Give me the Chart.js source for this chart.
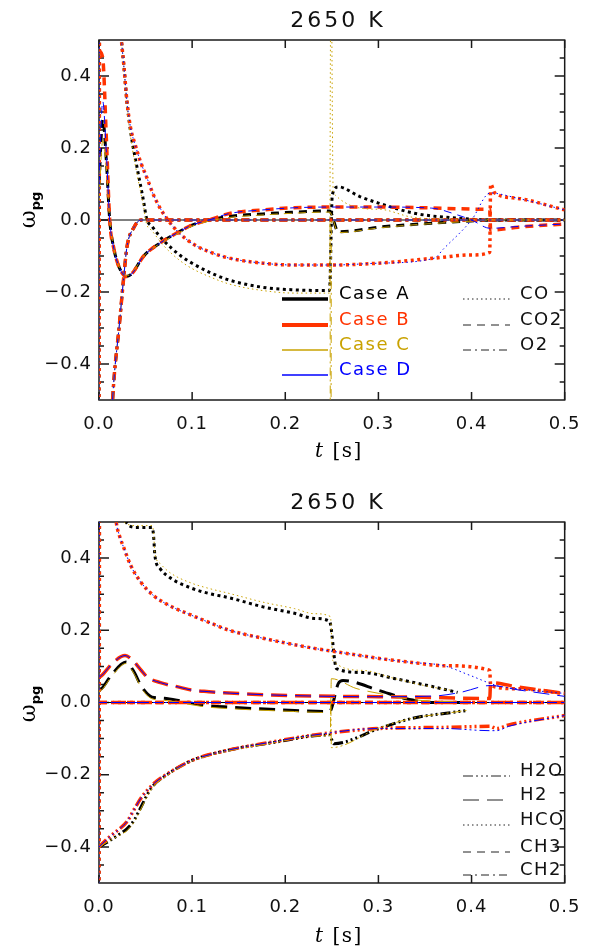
<!DOCTYPE html>
<html>
<head>
<meta charset="utf-8">
<script src="https://cdn.jsdelivr.net/npm/chart.js@4.4.1/dist/chart.umd.min.js"></script>
<style>
  body { margin: 0; background: #fff; width: 593px; height: 950px; position: relative; overflow: hidden; font-family: "DejaVu Sans", sans-serif; }
  canvas { position: absolute; left: 0; }
  .txt { position: absolute; white-space: nowrap; line-height: 18px; font-size: 18px; letter-spacing: 1.5px; }
  .title { position: absolute; width: 200px; text-align: center; font-size: 22px; letter-spacing: 3px; line-height: 22px; color: #111; }
  .xlab { position: absolute; width: 120px; text-align: center; font-family: "DejaVu Serif", serif; font-size: 20px; letter-spacing: 1.5px; line-height: 22px; }
  .ylab { position: absolute; width: 80px; height: 24px; text-align: center; transform: rotate(-90deg); font-family: "DejaVu Serif", serif; font-size: 22px; line-height: 24px; }
  .ylab sub { font-family: "DejaVu Sans", sans-serif; font-weight: bold; font-size: 13px; }
  svg.leg { position: absolute; left: 0; top: 0; overflow: visible; }
</style>
</head>
<body>
<canvas id="chart1" width="593" height="470" style="top:0px"></canvas>
<canvas id="chart2" width="593" height="468" style="top:482px"></canvas>
<svg class="leg" id="legendLines" width="593" height="950"></svg>

<script>
// ---- axes ----
const xTicks = [0.0, 0.1, 0.2, 0.3, 0.4, 0.5];
const yTicks = [-0.4, -0.2, 0.0, 0.2, 0.4];
const yMinorStep = 0.05;
const panelTitle = "2650 K";

// ---- cases ----
const caseNames = ["Case A", "Case B", "Case C", "Case D"];
const caseColors = ["#000000", "#ff3300", "#c9a200", "#0000ff"];

// ---- panel 1 : CO (dotted) ----
const tCO_A = [0, 0.001, 0.012, 0.024, 0.027, 0.03, 0.0345, 0.041, 0.048, 0.051, 0.057, 0.069, 0.0865, 0.1, 0.121, 0.14, 0.176, 0.21, 0.245, 0.2475, 0.2505, 0.257, 0.28, 0.3, 0.34, 0.385, 0.42, 0.5];
const wCO_A = [-0.6, 1.2, 0.8, 0.5, 0.42, 0.328, 0.236, 0.144, 0.05, 0.005, -0.018, -0.056, -0.097, -0.12, -0.148, -0.167, -0.187, -0.194, -0.196, -0.196, 0.07, 0.092, 0.065, 0.047, 0.018, 0.005, 0.0, 0.0];
const tCO_B = [0, 0.001, 0.012, 0.024, 0.027, 0.03, 0.034, 0.039, 0.0445, 0.0516, 0.0586, 0.0656, 0.074, 0.0865, 0.1, 0.118, 0.14, 0.176, 0.21, 0.25, 0.3, 0.36, 0.4, 0.4195, 0.4205, 0.425, 0.45, 0.5];
const wCO_B = [-0.6, 1.2, 0.8, 0.5, 0.42, 0.33, 0.255, 0.208, 0.162, 0.116, 0.069, 0.033, 0.0, -0.037, -0.065, -0.088, -0.106, -0.12, -0.125, -0.125, -0.12, -0.106, -0.097, -0.09, 0.1, 0.075, 0.06, 0.028];
const tCO_C = [0, 0.001, 0.012, 0.024, 0.027, 0.03, 0.0345, 0.041, 0.048, 0.051, 0.057, 0.069, 0.0865, 0.1, 0.121, 0.14, 0.176, 0.21, 0.2475, 0.249, 0.2515, 0.3, 0.336, 0.38, 0.5];
const wCO_C = [-0.6, 1.2, 0.8, 0.5, 0.41, 0.315, 0.22, 0.125, 0.035, -0.01, -0.03, -0.07, -0.112, -0.135, -0.16, -0.178, -0.196, -0.203, -0.203, 0.75, 0.075, 0.03, 0.008, 0.002, 0.0];
const tCO_D = [0, 0.001, 0.012, 0.024, 0.027, 0.03, 0.034, 0.039, 0.0445, 0.0516, 0.0586, 0.0656, 0.074, 0.0865, 0.1, 0.118, 0.14, 0.176, 0.21, 0.25, 0.3, 0.36, 0.37, 0.4, 0.42, 0.45, 0.5];
const wCO_D = [-0.6, 1.2, 0.8, 0.5, 0.42, 0.33, 0.255, 0.208, 0.162, 0.116, 0.069, 0.033, 0.0, -0.037, -0.065, -0.088, -0.106, -0.12, -0.125, -0.125, -0.12, -0.106, -0.08, 0.0, 0.075, 0.06, 0.028];

// ---- panel 1 : CO2 (dashed) ----
const tCO2_AC = [0, 0.004, 0.008, 0.0115, 0.016, 0.02, 0.025, 0.029, 0.035, 0.048, 0.065, 0.083, 0.1, 0.118, 0.14, 0.176, 0.21, 0.245, 0.2475, 0.257, 0.304, 0.357, 0.39, 0.42, 0.5];
const wCO2_A = [0.1, 0.28, 0.16, 0.0, -0.08, -0.12, -0.148, -0.157, -0.15, -0.1, -0.065, -0.037, -0.014, 0.0, 0.01, 0.017, 0.022, 0.025, 0.025, -0.033, -0.019, -0.009, -0.004, 0.0, 0.0];
const wCO2_C = [0.05, 0.22, 0.14, 0.0, -0.08, -0.12, -0.146, -0.155, -0.148, -0.1, -0.066, -0.04, -0.017, -0.003, 0.007, 0.014, 0.019, 0.022, 0.022, -0.035, -0.021, -0.01, -0.005, 0.0, 0.0];
const tCO2_B = [0, 0.004, 0.008, 0.0115, 0.016, 0.02, 0.025, 0.029, 0.035, 0.048, 0.065, 0.083, 0.1, 0.118, 0.14, 0.176, 0.21, 0.25, 0.3, 0.35, 0.412, 0.4195, 0.4205, 0.45, 0.5];
const wCO2_B = [0.47, 0.45, 0.22, 0.0, -0.08, -0.12, -0.148, -0.157, -0.15, -0.1, -0.065, -0.037, -0.014, 0.0, 0.018, 0.028, 0.034, 0.036, 0.036, 0.034, 0.03, 0.03, -0.028, -0.02, -0.011];
const tCO2_D = [0, 0.004, 0.008, 0.0115, 0.016, 0.02, 0.025, 0.029, 0.035, 0.048, 0.065, 0.083, 0.1, 0.118, 0.14, 0.176, 0.21, 0.25, 0.3, 0.357, 0.385, 0.4, 0.42, 0.45, 0.5];
const wCO2_D = [0.1, 0.33, 0.18, 0.0, -0.08, -0.12, -0.148, -0.157, -0.15, -0.1, -0.065, -0.037, -0.014, 0.0, 0.018, 0.028, 0.034, 0.036, 0.036, 0.033, 0.014, 0.0, -0.023, -0.018, -0.011];

// ---- panel 1 : O2 (dash-dot) ----
const tO2 = [0, 0.008, 0.0146, 0.022, 0.027, 0.03, 0.0376, 0.045, 0.5];
const wO2 = [-1.5, -0.9, -0.5, -0.287, -0.147, -0.075, -0.02, 0.0, 0.0];
const tO2_C = [0, 0.008, 0.0146, 0.022, 0.027, 0.03, 0.0376, 0.045, 0.248, 0.2485, 0.249, 0.2495, 0.5];
const wO2_C = [-1.5, -0.9, -0.5, -0.287, -0.147, -0.075, -0.02, 0.0, 0.0, -0.8, -0.8, 0.0, 0.0];

// ---- panel 2 : H2O (dash-dot-dot-dot) ----
const tH2O_A = [0, 0.01, 0.022, 0.03, 0.038, 0.045, 0.053, 0.06, 0.069, 0.085, 0.1, 0.137, 0.189, 0.231, 0.2475, 0.252, 0.301, 0.336, 0.378, 0.395];
const wH2O_A = [-0.4, -0.385, -0.365, -0.35, -0.325, -0.29, -0.25, -0.225, -0.207, -0.18, -0.16, -0.133, -0.11, -0.092, -0.09, -0.114, -0.072, -0.044, -0.028, -0.022];
const tH2O_B = [0, 0.01, 0.022, 0.03, 0.038, 0.045, 0.053, 0.06, 0.069, 0.085, 0.1, 0.137, 0.189, 0.231, 0.301, 0.37, 0.4195, 0.427, 0.44, 0.5];
const wH2O_B = [-0.4, -0.375, -0.35, -0.33, -0.295, -0.265, -0.24, -0.222, -0.205, -0.18, -0.16, -0.133, -0.108, -0.09, -0.072, -0.069, -0.066, -0.072, -0.062, -0.036];
const tH2O_C = [0, 0.01, 0.022, 0.03, 0.038, 0.045, 0.053, 0.06, 0.069, 0.085, 0.1, 0.137, 0.189, 0.231, 0.2485, 0.2488, 0.2495, 0.301, 0.336, 0.378, 0.395];
const wH2O_C = [-0.4, -0.385, -0.368, -0.355, -0.33, -0.295, -0.255, -0.228, -0.21, -0.182, -0.162, -0.135, -0.111, -0.093, -0.091, 0.0, -0.125, -0.07, -0.044, -0.028, -0.022];
const tH2O_D = [0, 0.01, 0.022, 0.03, 0.038, 0.045, 0.053, 0.06, 0.069, 0.085, 0.1, 0.137, 0.189, 0.231, 0.301, 0.37, 0.42, 0.427, 0.44, 0.5];
const wH2O_D = [-0.4, -0.375, -0.35, -0.33, -0.295, -0.265, -0.24, -0.222, -0.205, -0.18, -0.16, -0.133, -0.108, -0.09, -0.072, -0.072, -0.078, -0.078, -0.066, -0.036];

// ---- panel 2 : H2 (long dash) ----
const tH2_A = [0, 0.003, 0.013, 0.029, 0.038, 0.045, 0.057, 0.07, 0.09, 0.114, 0.14, 0.21, 0.2475, 0.257, 0.262, 0.301, 0.329, 0.357, 0.39];
const wH2_A = [0.035, 0.039, 0.075, 0.112, 0.083, 0.047, 0.015, 0.012, 0.003, -0.008, -0.013, -0.022, -0.025, 0.053, 0.061, 0.033, 0.011, 0.0, 0.0];
const tH2_B = [0, 0.003, 0.015, 0.028, 0.035, 0.045, 0.052, 0.066, 0.087, 0.1, 0.118, 0.14, 0.21, 0.3, 0.36, 0.385, 0.418, 0.4195, 0.4205, 0.45, 0.5];
const wH2_B = [0.07, 0.075, 0.11, 0.13, 0.12, 0.09, 0.07, 0.055, 0.042, 0.034, 0.03, 0.026, 0.019, 0.016, 0.014, 0.012, 0.011, 0.011, 0.055, 0.043, 0.025];
const tH2_C = [0, 0.003, 0.013, 0.029, 0.038, 0.045, 0.057, 0.07, 0.09, 0.114, 0.14, 0.21, 0.2485, 0.2495, 0.276, 0.301, 0.336, 0.378, 0.39];
const wH2_C = [0.03, 0.035, 0.07, 0.108, 0.078, 0.042, 0.01, 0.006, -0.002, -0.012, -0.017, -0.025, -0.028, 0.066, 0.039, 0.025, 0.008, 0.002, 0.0];
const tH2_D = [0, 0.003, 0.015, 0.028, 0.035, 0.045, 0.052, 0.066, 0.087, 0.1, 0.118, 0.14, 0.21, 0.3, 0.36, 0.388, 0.42, 0.45, 0.5];
const wH2_D = [0.07, 0.075, 0.11, 0.13, 0.12, 0.09, 0.07, 0.055, 0.042, 0.034, 0.03, 0.026, 0.019, 0.016, 0.018, 0.028, 0.047, 0.035, 0.017];

// ---- panel 2 : HCO (dotted) ----
const tHCO_A = [0, 0.001, 0.015, 0.029, 0.04, 0.057, 0.0586, 0.06, 0.0656, 0.076, 0.1, 0.118, 0.14, 0.176, 0.21, 0.231, 0.2475, 0.255, 0.283, 0.318, 0.353, 0.385];
const wHCO_A = [-0.6, 1.2, 0.7, 0.5, 0.485, 0.485, 0.462, 0.407, 0.371, 0.346, 0.316, 0.302, 0.29, 0.265, 0.247, 0.233, 0.225, 0.094, 0.083, 0.066, 0.047, 0.028];
const tHCO_B = [0, 0.001, 0.01, 0.0185, 0.022, 0.027, 0.034, 0.0447, 0.0586, 0.076, 0.1, 0.118, 0.14, 0.176, 0.231, 0.266, 0.301, 0.336, 0.37, 0.4195, 0.4205, 0.45, 0.5];
const wHCO_B = [-0.6, 1.2, 0.75, 0.5, 0.462, 0.426, 0.38, 0.334, 0.296, 0.268, 0.241, 0.222, 0.2, 0.178, 0.15, 0.136, 0.122, 0.111, 0.102, 0.089, 0.047, 0.038, 0.025];
const tHCO_C = [0, 0.001, 0.015, 0.027, 0.04, 0.057, 0.0586, 0.06, 0.0656, 0.076, 0.1, 0.118, 0.14, 0.176, 0.21, 0.231, 0.2485, 0.251, 0.283, 0.318, 0.353, 0.38];
const wHCO_C = [-0.6, 1.2, 0.7, 0.5, 0.49, 0.49, 0.47, 0.415, 0.385, 0.36, 0.33, 0.316, 0.302, 0.278, 0.26, 0.246, 0.238, 0.116, 0.089, 0.066, 0.045, 0.033];
const tHCO_D = [0, 0.001, 0.01, 0.0185, 0.022, 0.027, 0.034, 0.0447, 0.0586, 0.076, 0.1, 0.118, 0.14, 0.176, 0.231, 0.266, 0.301, 0.336, 0.37, 0.3985, 0.427, 0.45, 0.5];
const wHCO_D = [-0.6, 1.2, 0.75, 0.5, 0.462, 0.426, 0.38, 0.334, 0.296, 0.268, 0.241, 0.222, 0.2, 0.178, 0.15, 0.136, 0.122, 0.111, 0.102, 0.075, 0.047, 0.038, 0.025];

// ---- panel 2 : CH3 (dashed), CH2 (dash-dot), both ~0 ----
const tFlat = [0, 0.5];
const wFlat = [0.0, 0.0];

// ---- line styles ----
function dashFor(style, thick) {
  if (style === "dot") return thick ? [3, 3.5] : [1.5, 3];
  if (style === "dash") return [8, 6];
  if (style === "dashdot") return thick ? [8, 4, 3, 4] : [8, 4, 2, 4];
  if (style === "dash3dot") return [10, 3, 2, 3, 2, 3, 2, 3];
  if (style === "longdash") return [16, 8];
  return [];
}
const caseWidth = { A: 3, B: 3.5, C: 1, D: 1 };
const caseOrder = { A: 4, B: 3, C: 2, D: 1 };
const caseColor = { A: caseColors[0], B: caseColors[1], C: caseColors[2], D: caseColors[3] };

function series(c, style, t, w) {
  return {
    data: t.map((x, i) => ({ x: x, y: w[i] })),
    borderColor: caseColor[c],
    borderWidth: caseWidth[c],
    borderDash: dashFor(style, caseWidth[c] > 2),
    order: caseOrder[c],
    pointRadius: 0,
    fill: false,
    clip: 0,
    cubicInterpolationMode: "monotone"
  };
}

function zeroLine() {
  return { data: [{ x: 0, y: 0 }, { x: 0.5, y: 0 }], borderColor: "#000", borderWidth: 1, pointRadius: 0, order: 6, clip: 0 };
}

const panel1Sets = [
  zeroLine(),
  series("A", "dot", tCO_A, wCO_A), series("B", "dot", tCO_B, wCO_B),
  series("C", "dot", tCO_C, wCO_C), series("D", "dot", tCO_D, wCO_D),
  series("A", "dash", tCO2_AC, wCO2_A), series("B", "dash", tCO2_B, wCO2_B),
  series("C", "dash", tCO2_AC, wCO2_C), series("D", "dash", tCO2_D, wCO2_D),
  series("A", "dashdot", tO2, wO2), series("B", "dashdot", tO2, wO2),
  series("C", "dashdot", tO2_C, wO2_C), series("D", "dashdot", tO2, wO2)
];

const panel2Sets = [
  zeroLine(),
  series("A", "dash3dot", tH2O_A, wH2O_A), series("B", "dash3dot", tH2O_B, wH2O_B),
  series("C", "dash3dot", tH2O_C, wH2O_C), series("D", "dash3dot", tH2O_D, wH2O_D),
  series("A", "longdash", tH2_A, wH2_A), series("B", "longdash", tH2_B, wH2_B),
  series("C", "longdash", tH2_C, wH2_C), series("D", "longdash", tH2_D, wH2_D),
  series("A", "dot", tHCO_A, wHCO_A), series("B", "dot", tHCO_B, wHCO_B),
  series("C", "dot", tHCO_C, wHCO_C), series("D", "dot", tHCO_D, wHCO_D),
  series("A", "dash", tFlat, wFlat), series("B", "dash", tFlat, wFlat),
  series("C", "dash", tFlat, wFlat), series("D", "dash", tFlat, wFlat),
  series("A", "dashdot", tFlat, wFlat), series("B", "dashdot", tFlat, wFlat),
  series("C", "dashdot", tFlat, wFlat), series("D", "dashdot", tFlat, wFlat)
];

function fmt(v) {
  const s = Math.abs(v).toFixed(1);
  return v < -1e-9 ? "\u2212" + s : s;
}

// IDL style frame with inward ticks, drawn under the curves
const frameTicks = {
  id: "frameTicks",
  beforeDraw(chart) { chart.ctx.letterSpacing = "1px"; },
  beforeDatasetsDraw(chart) {
    const { ctx, chartArea: a, scales } = chart;
    const x = scales.x, y = scales.y;
    ctx.save();
    ctx.strokeStyle = "#1a1a1a";
    ctx.lineWidth = 1.5;
    ctx.strokeRect(a.left, a.top, a.right - a.left, a.bottom - a.top);
    ctx.beginPath();
    xTicks.forEach(v => {
      const px = x.getPixelForValue(v);
      ctx.moveTo(px, a.bottom); ctx.lineTo(px, a.bottom - 8);
      ctx.moveTo(px, a.top); ctx.lineTo(px, a.top + 8);
    });
    for (let k = -9; k <= 9; k++) {
      const py = y.getPixelForValue(k * yMinorStep);
      const len = (k % 4 === 0) ? 10 : 5;
      ctx.moveTo(a.left, py); ctx.lineTo(a.left + len, py);
      ctx.moveTo(a.right, py); ctx.lineTo(a.right - len, py);
    }
    ctx.stroke();
    ctx.restore();
  }
};

function makeChart(id, sets, padBottom) {
  return new Chart(document.getElementById(id).getContext("2d"), {
    type: "line",
    data: { datasets: sets },
    options: {
      responsive: false,
      maintainAspectRatio: false,
      animation: false,
      layout: { padding: { left: 0, right: 16, top: 40, bottom: padBottom } },
      plugins: { legend: { display: false }, tooltip: { enabled: false } },
      scales: {
        x: {
          type: "linear", min: 0, max: 0.5,
          grid: { display: false, drawTicks: false },
          border: { display: false },
          afterBuildTicks: s => { s.ticks = xTicks.map(v => ({ value: v })); },
          afterFit: s => { s.height = 30; },
          ticks: { padding: 14, autoSkip: false, maxRotation: 0, color: "#111",
                   font: { family: "DejaVu Sans", size: 18 }, callback: v => fmt(v) }
        },
        y: {
          type: "linear", min: -0.5, max: 0.5,
          grid: { display: false, drawTicks: false },
          border: { display: false },
          afterBuildTicks: s => { s.ticks = yTicks.map(v => ({ value: v })); },
          afterFit: s => { s.width = 99; },
          ticks: { padding: 7, autoSkip: false, color: "#111",
                   font: { family: "DejaVu Sans", size: 18 }, callback: v => fmt(v) }
        }
      }
    },
    plugins: [frameTicks]
  });
}

makeChart("chart1", panel1Sets, 40);
makeChart("chart2", panel2Sets, 37);

// ---- titles, axis labels ----
function addDiv(cls, html, left, top, color) {
  const d = document.createElement("div");
  d.className = cls;
  d.innerHTML = html;
  d.style.left = left + "px";
  d.style.top = top + "px";
  if (color) d.style.color = color;
  document.body.appendChild(d);
  return d;
}
addDiv("title", panelTitle, 238, 9);
addDiv("title", panelTitle, 238, 491);
addDiv("xlab", "<i>t</i> [s]", 279, 439);
addDiv("xlab", "<i>t</i> [s]", 279, 924);
addDiv("ylab", "\u03c9<sub>pg</sub>", -12, 198);
addDiv("ylab", "\u03c9<sub>pg</sub>", -12, 692);

// ---- legends ----
const svg = document.getElementById("legendLines");
function legLine(x1, x2, y, color, width, dash) {
  const l = document.createElementNS("http://www.w3.org/2000/svg", "line");
  l.setAttribute("x1", x1); l.setAttribute("x2", x2);
  l.setAttribute("y1", y); l.setAttribute("y2", y);
  l.setAttribute("stroke", color); l.setAttribute("stroke-width", width);
  if (dash.length) l.setAttribute("stroke-dasharray", dash.join(" "));
  svg.appendChild(l);
}
const caseLegendY = [299, 325, 350, 375];
const caseLegendW = [3.5, 4, 1.5, 1.5];
caseNames.forEach((n, i) => {
  legLine(282, 328, caseLegendY[i], caseColors[i], caseLegendW[i], []);
  addDiv("txt", n, 339, caseLegendY[i] - 15, caseColors[i]);
});

const topSpecies = ["CO", "CO2", "O2"];
const topSpeciesStyle = ["dot", "dash", "dashdot"];
const topSpeciesY = [299, 325, 350];
topSpecies.forEach((n, i) => {
  legLine(463, 510, topSpeciesY[i], "#222", 1, dashFor(topSpeciesStyle[i], false));
  addDiv("txt", n, 520, topSpeciesY[i] - 15, "#111");
});

const botSpecies = ["H2O", "H2", "HCO", "CH3", "CH2"];
const botSpeciesStyle = ["dash3dot", "longdash", "dot", "dash", "dashdot"];
const botSpeciesY = [776, 800, 825, 852, 875];
botSpecies.forEach((n, i) => {
  legLine(463, 510, botSpeciesY[i], "#222", 1, dashFor(botSpeciesStyle[i], false));
  addDiv("txt", n, 520, botSpeciesY[i] - 15, "#111");
});
</script>
</body>
</html>
